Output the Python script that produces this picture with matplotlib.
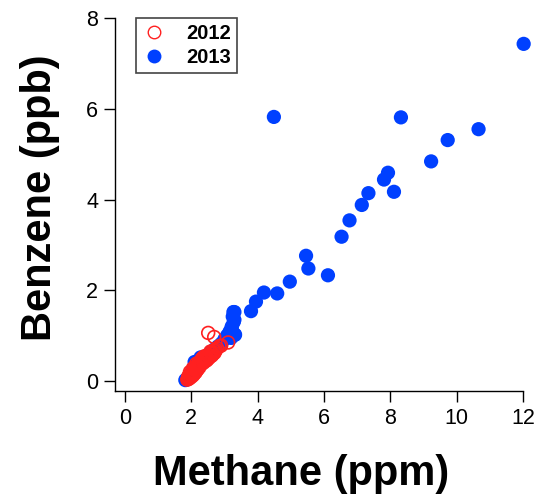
import matplotlib
matplotlib.use("Agg")
import matplotlib.pyplot as plt
from matplotlib.lines import Line2D

plt.rcParams['font.family'] = ['Liberation Sans', 'DejaVu Sans']

# 2012 campaign: methane (ppm) vs benzene (ppb)
methane_2012 = [1.88, 1.90, 1.92, 1.93, 1.95, 1.97, 1.99, 2.00, 2.02, 2.04,
                2.06, 2.08, 2.10, 2.12, 2.14, 2.16, 2.18, 2.20, 2.22, 2.25,
                2.27, 2.30, 2.33, 2.36, 2.39, 2.42, 2.45, 2.48, 2.52, 2.56,
                2.60, 2.64, 2.68, 2.72, 2.78, 2.85, 2.05, 2.15, 2.35, 2.51,
                2.69, 3.11, 2.90, 1.96, 1.91, 1.98, 2.03, 2.09, 2.13, 2.19,
                2.24, 2.28, 2.32, 2.38, 2.44, 2.50, 2.55, 2.62, 2.66, 2.74,
                2.01, 2.11, 2.21, 2.31, 2.41, 2.58, 2.07, 2.17, 2.47, 2.70]
benzene_2012 = [0.03, 0.06, 0.08, 0.05, 0.12, 0.10, 0.15, 0.13, 0.18, 0.16,
                0.22, 0.20, 0.26, 0.24, 0.30, 0.28, 0.33, 0.31, 0.37, 0.35,
                0.41, 0.40, 0.45, 0.43, 0.49, 0.47, 0.53, 0.51, 0.57, 0.55,
                0.62, 0.60, 0.67, 0.66, 0.72, 0.77, 0.28, 0.38, 0.52, 1.06,
                0.97, 0.85, 0.78, 0.20, 0.10, 0.08, 0.11, 0.17, 0.19, 0.26,
                0.30, 0.36, 0.38, 0.41, 0.45, 0.49, 0.52, 0.56, 0.60, 0.69,
                0.20, 0.30, 0.40, 0.48, 0.55, 0.65, 0.14, 0.24, 0.46, 0.62]

# 2013 campaign
methane_2013 = [12.02, 4.49, 8.32, 10.66, 9.73, 9.23, 7.93, 7.81, 8.11, 7.34,
                7.14, 6.77, 6.53, 6.12, 5.46, 5.53, 4.97, 4.19, 4.59, 3.95,
                3.80, 3.27, 3.30, 3.31, 3.22, 3.18,
                1.82, 1.86, 1.90, 1.95, 2.00, 2.10, 2.10, 2.20, 2.28, 2.30,
                2.40, 2.50, 2.60, 2.70, 2.80, 2.90, 3.00, 3.08, 3.15, 3.22,
                3.28, 3.25, 3.30, 3.32, 3.20]
benzene_2013 = [7.43, 5.82, 5.81, 5.55, 5.31, 4.84, 4.59, 4.44, 4.17, 4.14,
                3.88, 3.54, 3.18, 2.33, 2.76, 2.48, 2.19, 1.95, 1.93, 1.75,
                1.54, 1.52, 1.35, 1.02, 1.20, 1.10,
                0.02, 0.04, 0.08, 0.13, 0.18, 0.42, 0.25, 0.33, 0.52, 0.42,
                0.48, 0.56, 0.64, 0.70, 0.76, 0.82, 0.92, 1.00, 1.08, 1.18,
                1.30, 1.42, 1.52, 1.02, 0.95]

x_ticks = [0, 2, 4, 6, 8, 10, 12]
y_ticks = [0, 2, 4, 6, 8]
series_labels = ['2012', '2013']

blue = '#0040ff'
red = '#ff2020'

W, H = 541, 499
fig = plt.figure(figsize=(W / 100, H / 100), dpi=100)
ax = fig.add_axes([115 / W, 1 - 391 / H, (523 - 115) / W, (391 - 18) / H])

ax.scatter(methane_2013, benzene_2013, s=105, color=blue, edgecolors='none',
           clip_on=False, zorder=2)
ax.scatter(methane_2012, benzene_2012, s=85, facecolors='none', edgecolors=red,
           linewidths=1.2, clip_on=False, zorder=3)

ax.set_xlim(-0.3, 12)
ax.set_ylim(-0.22, 8)
ax.set_xticks(x_ticks)
ax.set_yticks(y_ticks)
ax.set_xticklabels([str(t) for t in x_ticks])
ax.set_yticklabels([str(t) for t in y_ticks])
ax.tick_params(direction='out', length=8, width=1, labelsize=15.5, pad=4,
               colors='black')
for side in ('top', 'right'):
    ax.spines[side].set_visible(False)
for side in ('left', 'bottom'):
    ax.spines[side].set_linewidth(1)
    ax.spines[side].set_color('black')

fig.text(301 / W, 1 - 474 / H, 'Methane (ppm)', fontsize=30, fontweight='bold',
         ha='center', va='center')
fig.text(40 / W, 1 - 198 / H, 'Benzene (ppb)', fontsize=30, fontweight='bold',
         ha='center', va='center', rotation=90)

handles = [
    Line2D([], [], linestyle='none', marker='o', markersize=9,
           markerfacecolor='none', markeredgecolor=red, markeredgewidth=1.0),
    Line2D([], [], linestyle='none', marker='o', markersize=10,
           markerfacecolor=blue, markeredgecolor='none'),
]
leg = ax.legend(handles, series_labels, loc='upper left',
                bbox_to_anchor=(136 / W, 1 - 18 / H), bbox_transform=fig.transFigure,
                frameon=True, fancybox=False, framealpha=1, edgecolor='#444444',
                prop={'weight': 'bold', 'size': 14.5}, handlelength=1.2,
                handletextpad=1.0, borderpad=0.3, labelspacing=0.25,
                borderaxespad=0)
leg.get_frame().set_linewidth(1.2)

fig.savefig('out.png', dpi=100)
